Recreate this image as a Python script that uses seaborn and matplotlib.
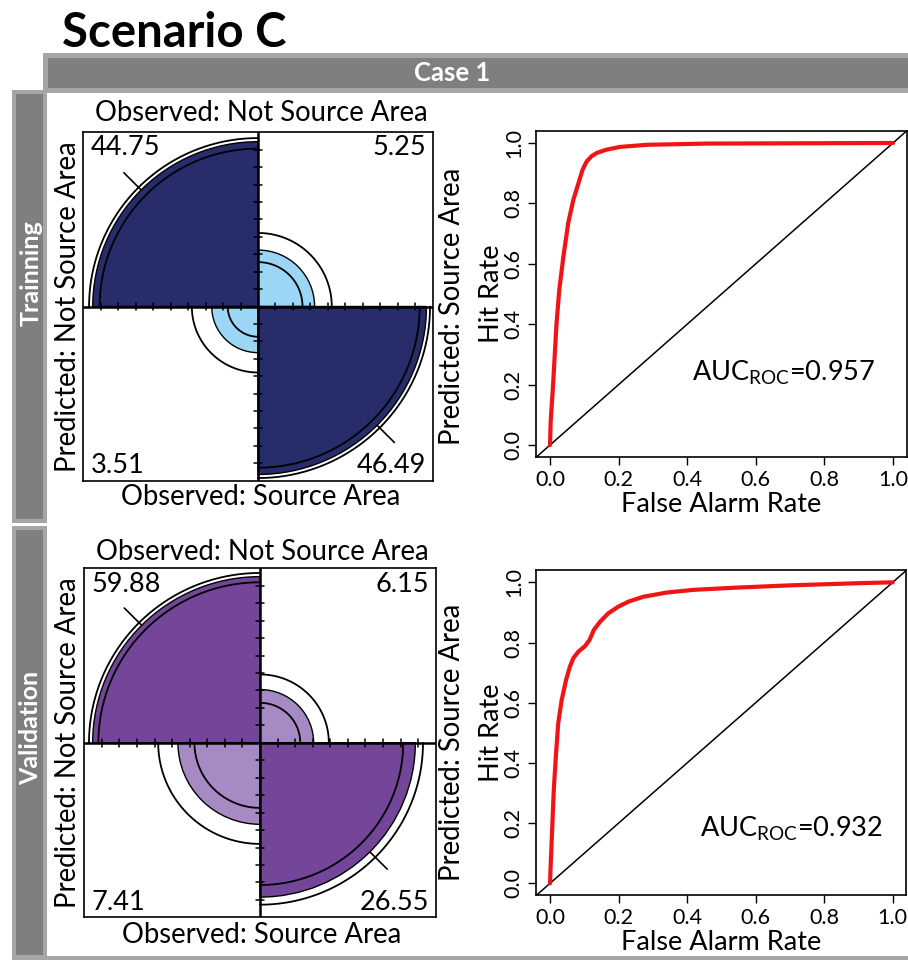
import numpy as np
import pandas as pd
import matplotlib
matplotlib.use("Agg")
import matplotlib.pyplot as plt
import seaborn as sns
from matplotlib.patches import Wedge, Rectangle

# cells: obs not/pred not, obs not/pred src, obs src/pred not, obs src/pred src
train_cells = [44.75, 5.25, 3.51, 46.49]
valid_cells = [59.88, 6.15, 7.41, 26.55]
train_auc = 0.957
valid_auc = 0.932

train_fpr = [0.0, 0.002, 0.008, 0.019, 0.027, 0.039, 0.053, 0.068, 0.083, 0.095, 0.107,
             0.121, 0.136, 0.165, 0.204, 0.282, 0.457, 1.0]
train_tpr = [0.0, 0.08, 0.182, 0.403, 0.514, 0.624, 0.735, 0.812, 0.867, 0.912, 0.939,
             0.956, 0.967, 0.978, 0.987, 0.994, 0.998, 1.0]

valid_fpr = [0.0, 0.003, 0.007, 0.011, 0.017, 0.024, 0.034, 0.047, 0.058, 0.068, 0.083,
             0.102, 0.115, 0.128, 0.146, 0.170, 0.199, 0.229, 0.272, 0.340, 0.418,
             0.535, 0.700, 0.895, 1.0]
valid_tpr = [0.0, 0.089, 0.199, 0.310, 0.421, 0.532, 0.609, 0.676, 0.720, 0.748, 0.770,
             0.788, 0.808, 0.842, 0.869, 0.897, 0.919, 0.936, 0.952, 0.966, 0.975,
             0.982, 0.990, 0.997, 1.0]

ticks = [0.0, 0.2, 0.4, 0.6, 0.8, 1.0]
tick_labels = ["0.0", "0.2", "0.4", "0.6", "0.8", "1.0"]

sns.set_style("ticks")
plt.rcParams["font.family"] = ["Lato", "DejaVu Sans"]
plt.rcParams["mathtext.fontset"] = "custom"
plt.rcParams["mathtext.rm"] = "Lato"
plt.rcParams["mathtext.it"] = "Lato:italic"
plt.rcParams["mathtext.bf"] = "Lato:bold"
plt.rcParams["text.color"] = "black"
plt.rcParams["xtick.color"] = "black"
plt.rcParams["ytick.color"] = "black"

W, H = 908, 960
fig = plt.figure(figsize=(W / 100, H / 100), dpi=100)


def ftext(x, y, s, **kw):
    return fig.text(x / W, 1 - y / H, s, **kw)


def add_axes_px(l, t, r, b):
    return fig.add_axes([l / W, 1 - b / H, (r - l) / W, (b - t) / H])


def frect(l, t, r, b, color):
    fig.patches.append(Rectangle((l / W, 1 - b / H), (r - l) / W, (b - t) / H,
                                 transform=fig.transFigure, facecolor=color,
                                 edgecolor="none", zorder=0))


# grey header / side bars
frect(43, 53, 910, 93, "#a6a6a6")
frect(48, 58, 910, 88, "#7f7f7f")
frect(12, 90, 47, 523, "#a6a6a6")
frect(16, 94, 43, 519, "#7f7f7f")
frect(12, 526, 47, 962, "#a6a6a6")
frect(16, 530, 43, 955, "#7f7f7f")
frect(12, 956, 910, 962, "#a6a6a6")

ftext(62, 47, "Scenario C", fontsize=34, fontweight="bold", ha="left", va="baseline")
ftext(452, 73, "Case 1", fontsize=18.5, fontweight="bold", color="white", ha="center", va="center")
ftext(31, 273, "Trainning", fontsize=18, fontweight="bold", color="white",
      rotation=90, ha="center", va="center")
ftext(31, 728, "Validation", fontsize=18, fontweight="bold", color="white",
      rotation=90, ha="center", va="center")


def ci_table(t, psi):
    # table with the margins of t and odds ratio psi, then row-standardised
    r1 = t[0].sum()
    c1 = t[:, 0].sum()
    d = t.sum() - r1 - c1
    A = psi - 1
    B = psi * (r1 + c1) + d
    C = psi * r1 * c1
    x = (B - np.sqrt(B * B - 4 * A * C)) / (2 * A)
    tab = np.array([[x, r1 - x], [c1 - x, d + x]])
    return tab / tab.sum(axis=1, keepdims=True)


def fourfold(ax, cells, dark, light):
    t = np.array(cells).reshape(2, 2)
    s = t / t.sum(axis=1, keepdims=True)
    odds = t[0, 0] * t[1, 1] / (t[0, 1] * t[1, 0])
    se = np.sqrt((1 / t).sum())
    lo = ci_table(t, odds * np.exp(-1.959964 * se))
    hi = ci_table(t, odds * np.exp(1.959964 * se))
    quads = {(0, 0): (90, 180), (0, 1): (0, 90), (1, 0): (180, 270), (1, 1): (270, 360)}
    for (i, j), (a0, a1) in quads.items():
        col = dark if i == j else light
        r = np.sqrt(s[i, j])
        ax.add_patch(Wedge((0, 0), r, a0, a1, facecolor=col, edgecolor="black", lw=1.0))
        th = np.radians(np.linspace(a0, a1, 200))
        for ring in (lo, hi):
            rr = np.sqrt(ring[i, j])
            ax.plot(rr * np.cos(th), rr * np.sin(th), color="black", lw=1.3)
        if i == j:
            a = np.radians((a0 + a1) / 2)
            ax.plot([r * np.cos(a), (r + 0.14) * np.cos(a)],
                    [r * np.sin(a), (r + 0.14) * np.sin(a)], color="black", lw=1.2)
    ax.axhline(0, color="black", lw=1.8)
    ax.axvline(0, color="black", lw=1.8)
    for v in np.arange(-9, 10) / 10:
        if v == 0:
            continue
        ax.plot([v, v], [-0.022, 0.022], color="black", lw=1.1)
        ax.plot([-0.022, 0.022], [v, v], color="black", lw=1.1)
    ax.set_xlim(-1, 1)
    ax.set_ylim(-1, 1)
    ax.set_xticks([])
    ax.set_yticks([])
    for sp in ax.spines.values():
        sp.set_visible(True)
        sp.set_linewidth(1.2)
        sp.set_color("black")
    ax.text(-0.96, 0.91, f"{cells[0]:.2f}", fontsize=19.5, ha="left", va="center")
    ax.text(0.96, 0.91, f"{cells[1]:.2f}", fontsize=19.5, ha="right", va="center")
    ax.text(-0.96, -0.915, f"{cells[2]:.2f}", fontsize=19.5, ha="left", va="center")
    ax.text(0.96, -0.915, f"{cells[3]:.2f}", fontsize=19.5, ha="right", va="center")


def ff_labels(cx, cy, top, bottom, left, right):
    ftext(cx, top, "Observed: Not Source Area", fontsize=19.8, ha="center", va="center")
    ftext(cx, bottom, "Observed: Source Area", fontsize=19.8, ha="center", va="center")
    ftext(left, cy, "Predicted: Not Source Area", fontsize=19.8, rotation=90, ha="center", va="center")
    ftext(right, cy, "Predicted: Source Area", fontsize=19.8, rotation=90, ha="center", va="center")


def roc(ax, fpr, tpr, auc, auc_xy):
    df = pd.DataFrame({"fpr": fpr, "tpr": tpr})
    ax.axline((0, 0), (1, 1), color="black", lw=1.1)
    sns.lineplot(data=df, x="fpr", y="tpr", ax=ax, color="#f01414", lw=3.0,
                 sort=False, estimator=None)
    ax.set_xlim(-0.04, 1.04)
    ax.set_ylim(-0.04, 1.04)
    ax.set_xticks(ticks)
    ax.set_xticklabels(tick_labels)
    ax.set_yticks(ticks)
    ax.set_yticklabels(tick_labels, rotation=90, va="center")
    ax.tick_params(direction="out", length=6, width=1.0, labelsize=15.5, pad=3, color="black")
    ax.set_xlabel("")
    ax.set_ylabel("")
    for sp in ax.spines.values():
        sp.set_visible(True)
        sp.set_linewidth(1.2)
        sp.set_color("black")
    ax.text(auc_xy[0], auc_xy[1], r"AUC$_{\mathrm{ROC}}$=" + f"{auc:.3f}", fontsize=19.5,
            ha="right", va="center", transform=ax.transData)


# training row
ax1 = add_axes_px(83.3, 132.3, 432.7, 480.7)
fourfold(ax1, train_cells, "#272c6b", "#9bd7f5")
ff_labels(261, 306.5, 113, 497, 68, 452)

ax2 = add_axes_px(536.3, 130.9, 906.7, 457.1)
roc(ax2, train_fpr, train_tpr, train_auc, (0.947, 0.24))
ftext(721, 504, "False Alarm Rate", fontsize=19.5, ha="center", va="center")
ftext(491, 294, "Hit Rate", fontsize=19.5, rotation=90, ha="center", va="center")

# validation row
ax3 = add_axes_px(84.3, 568.3, 435.7, 917.3)
fourfold(ax3, valid_cells, "#734699", "#a58ac3")
ff_labels(262, 742.8, 552, 935, 68, 452)

ax4 = add_axes_px(536.3, 570.3, 906.4, 895.4)
roc(ax4, valid_fpr, valid_tpr, valid_auc, (0.971, 0.18))
ftext(721, 942, "False Alarm Rate", fontsize=19.5, ha="center", va="center")
ftext(491, 733, "Hit Rate", fontsize=19.5, rotation=90, ha="center", va="center")

fig.savefig("out.png", dpi=100)
